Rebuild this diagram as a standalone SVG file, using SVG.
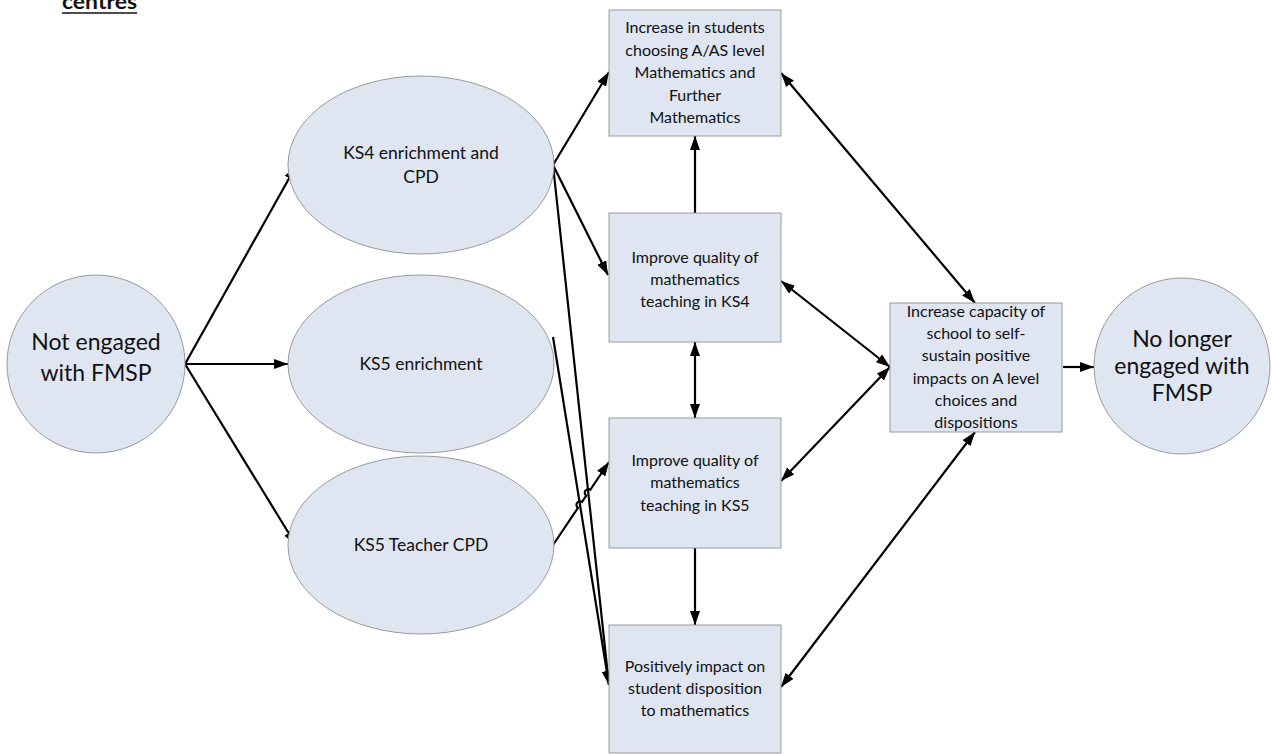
<svg xmlns="http://www.w3.org/2000/svg" width="1272" height="754" viewBox="0 0 1272 754">
<style>
.n{fill:#dfe6f1;stroke:#9a9a9a;stroke-width:1}
.t{font-family:Lato,"Liberation Sans",sans-serif;fill:#111;text-anchor:middle}
.s{font-size:16px}
.m{font-size:17.5px}
.b{font-size:23px}
.c{fill:none;stroke:#000;stroke-width:2.2}
</style>
<defs>
<marker id="ah" viewBox="0 0 14 10" refX="14" refY="5" markerWidth="14" markerHeight="10" markerUnits="userSpaceOnUse" orient="auto-start-reverse">
<path d="M0,0 L14,5 L0,10 Z" fill="#000"/>
</marker>
</defs>
<rect width="1272" height="754" fill="#fff"/>
<text x="62" y="9" font-family="Lato,'Liberation Sans',sans-serif" font-weight="bold" font-size="20" fill="#111" textLength="75" lengthAdjust="spacingAndGlyphs">centres</text>
<line x1="62" y1="13" x2="137" y2="13" stroke="#111" stroke-width="1.5"/>

<g id="connectors">
<line class="c" x1="185" y1="364" x2="296" y2="166" marker-end="url(#ah)"/>
<line class="c" x1="185" y1="364" x2="288" y2="364" marker-end="url(#ah)"/>
<line class="c" x1="185" y1="364" x2="296" y2="545" marker-end="url(#ah)"/>
<line class="c" x1="553" y1="165" x2="609" y2="72" marker-end="url(#ah)"/>
<line class="c" x1="553" y1="165" x2="608" y2="275" marker-end="url(#ah)"/>
<line class="c" x1="553" y1="165" x2="609" y2="685" marker-end="url(#ah)"/>
<line class="c" x1="553" y1="337" x2="609" y2="685" marker-end="url(#ah)"/>
<path class="c" d="M553,545 L578.0,507.8 A3.5,3.5 0 0 1 582.0,502.0 L586.3,495.6 A3.5,3.5 0 0 1 590.3,489.8 L609,462" marker-end="url(#ah)"/>
<line class="c" x1="695" y1="213" x2="695" y2="136" marker-end="url(#ah)"/>
<line class="c" x1="695" y1="342" x2="695" y2="418" marker-start="url(#ah)" marker-end="url(#ah)"/>
<line class="c" x1="695" y1="548" x2="695" y2="625" marker-end="url(#ah)"/>
<line class="c" x1="781" y1="73" x2="975" y2="303" marker-start="url(#ah)" marker-end="url(#ah)"/>
<line class="c" x1="781" y1="281" x2="890" y2="367" marker-start="url(#ah)" marker-end="url(#ah)"/>
<line class="c" x1="781" y1="481" x2="890" y2="367" marker-start="url(#ah)" marker-end="url(#ah)"/>
<line class="c" x1="781" y1="687" x2="975" y2="432" marker-start="url(#ah)" marker-end="url(#ah)"/>
<line class="c" x1="1063" y1="367" x2="1094" y2="367" marker-end="url(#ah)"/>
</g>

<g id="not-engaged">
<circle class="n" cx="96" cy="364" r="89"/>
<text class="t b" x="96" y="350">Not engaged</text>
<text class="t b" x="96" y="381">with FMSP</text>
</g>
<g id="ks4">
<ellipse class="n" cx="421" cy="165" rx="133" ry="89"/>
<text class="t m" x="421" y="159">KS4 enrichment and</text>
<text class="t m" x="421" y="183">CPD</text>
</g>
<g id="ks5-enrichment">
<ellipse class="n" cx="421" cy="364" rx="133" ry="89"/>
<text class="t m" x="421" y="370">KS5 enrichment</text>
</g>
<g id="ks5-cpd">
<ellipse class="n" cx="421" cy="545" rx="133" ry="89"/>
<text class="t m" x="421" y="551">KS5 Teacher CPD</text>
</g>
<g id="box-increase-students">
<rect class="n" x="609" y="10" width="172" height="126"/>
<text class="t s" x="695" y="33">Increase in students</text>
<text class="t s" x="695" y="56">choosing A/AS level</text>
<text class="t s" x="695" y="78">Mathematics and</text>
<text class="t s" x="695" y="101">Further</text>
<text class="t s" x="695" y="123">Mathematics</text>
</g>
<g id="box-ks4">
<rect class="n" x="609" y="213" width="172" height="129"/>
<text class="t s" x="695" y="263">Improve quality of</text>
<text class="t s" x="695" y="285">mathematics</text>
<text class="t s" x="695" y="307">teaching in KS4</text>
</g>
<g id="box-ks5">
<rect class="n" x="609" y="418" width="172" height="130"/>
<text class="t s" x="695" y="466">Improve quality of</text>
<text class="t s" x="695" y="488">mathematics</text>
<text class="t s" x="695" y="511">teaching in KS5</text>
</g>
<g id="box-disposition">
<rect class="n" x="609" y="625" width="172" height="128"/>
<text class="t s" x="695" y="672">Positively impact on</text>
<text class="t s" x="695" y="694">student disposition</text>
<text class="t s" x="695" y="716">to mathematics</text>
</g>
<g id="box-capacity">
<rect class="n" x="890" y="303" width="172" height="129"/>
<text class="t s" x="976" y="317">Increase capacity of</text>
<text class="t s" x="976" y="339">school to self-</text>
<text class="t s" x="976" y="361">sustain positive</text>
<text class="t s" x="976" y="384">impacts on A level</text>
<text class="t s" x="976" y="406">choices and</text>
<text class="t s" x="976" y="428">dispositions</text>
</g>
<g id="no-longer">
<circle class="n" cx="1182" cy="366" r="88"/>
<text class="t b" x="1182" y="347">No longer</text>
<text class="t b" x="1182" y="374">engaged with</text>
<text class="t b" x="1182" y="401">FMSP</text>
</g>
</svg>
